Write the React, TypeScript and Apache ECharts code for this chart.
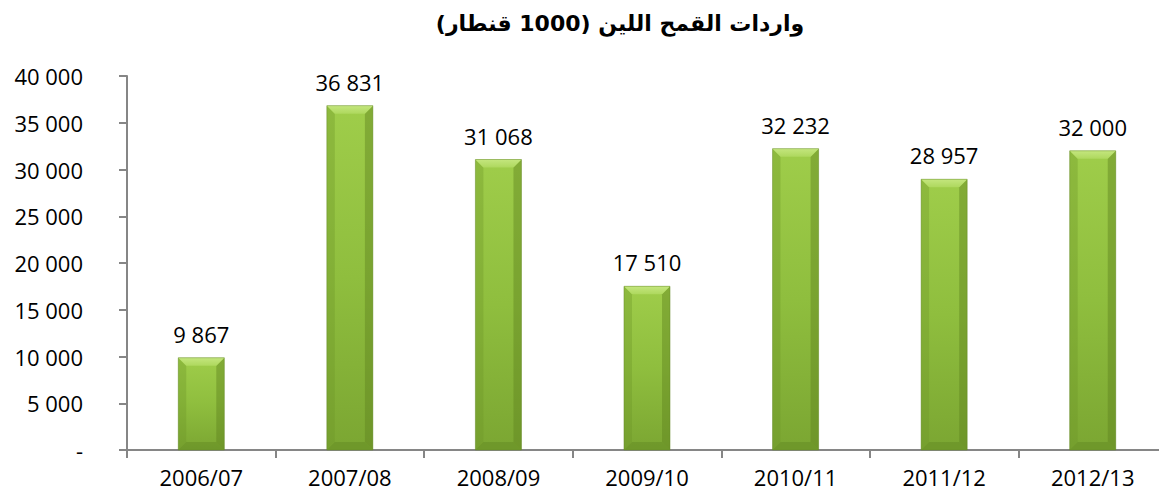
import React, { useEffect, useRef } from "react";
import * as echarts from "echarts";

const titleText = "واردات القمح اللين (1000 قنطار)";
const categories = ["2006/07", "2007/08", "2008/09", "2009/10", "2010/11", "2011/12", "2012/13"];
const imports = [9867, 36831, 31068, 17510, 32232, 28957, 32000];
const yMin = 0;
const yMax = 40000;
const yInterval = 5000;

const fmt = (v: number) => {
  if (v === 0) return "-";
  const s = String(Math.round(v));
  return s.replace(/\B(?=(\d{3})+(?!\d))/g, " ");
};

export default function App() {
  const ref = useRef<HTMLDivElement>(null);
  useEffect(() => {
    if (!ref.current) return;
    const chart = echarts.init(ref.current, null, { renderer: "svg" });
    const font = "'Open Sans', 'Noto Sans', sans-serif";
    const barRatio = 0.31;
    chart.setOption({
      animation: false,
      backgroundColor: "#ffffff",
      title: {
        text: titleText,
        left: 615,
        top: 7,
        textAlign: "center",
        textStyle: {
          fontFamily: "'DejaVu Sans', 'Liberation Sans', sans-serif",
          fontWeight: "bold",
          fontSize: 22,
          color: "#000000",
        },
      },
      grid: { left: 127, right: 0, top: 76, bottom: 50, containLabel: false },
      xAxis: {
        type: "category",
        data: categories,
        axisLine: { lineStyle: { color: "#868686", width: 2 } },
        axisTick: { show: true, length: 8, alignWithLabel: false, lineStyle: { color: "#868686", width: 2 } },
        axisLabel: { color: "#000", fontSize: 22, fontFamily: font, margin: 16 },
      },
      yAxis: {
        type: "value",
        min: yMin,
        max: yMax,
        interval: yInterval,
        splitLine: { show: false },
        axisLine: { show: true, lineStyle: { color: "#868686", width: 2 } },
        axisTick: { show: true, length: 8, lineStyle: { color: "#868686", width: 2 } },
        axisLabel: {
          color: "#000",
          fontSize: 22,
          fontFamily: font,
          margin: 44,
          formatter: (v: number) => fmt(v),
        },
      },
      series: [
        {
          type: "custom",
          data: imports.map((v, i) => [i, v]),
          z: 3,
          renderItem: (params: any, api: any) => {
            const idx = api.value(0);
            const val = api.value(1);
            const top = api.coord([idx, val]);
            const base = api.coord([idx, 0]);
            const bw = api.size([1, 0])[0] * barRatio;
            const l = top[0] - bw / 2;
            const r = top[0] + bw / 2;
            const t = top[1];
            const b = base[1];
            const bv = Math.min(8, (b - t) / 3);
            return {
              type: "group",
              children: [
                {
                  type: "rect",
                  shape: { x: l, y: t, width: bw, height: b - t },
                  style: {
                    fill: new echarts.graphic.LinearGradient(0, 0, 0, 1, [
                      { offset: 0, color: "#9fcd4a" },
                      { offset: 0.5, color: "#8fbe3e" },
                      { offset: 1, color: "#7ba632" },
                    ]),
                  },
                },
                {
                  type: "polygon",
                  shape: { points: [[l, t], [l + bv, t + bv], [l + bv, b - bv], [l, b]] },
                  style: { fill: "rgba(110,150,40,0.35)" },
                },
                {
                  type: "polygon",
                  shape: { points: [[r, t], [r - bv, t + bv], [r - bv, b - bv], [r, b]] },
                  style: { fill: "rgba(95,130,30,0.45)" },
                },
                {
                  type: "polygon",
                  shape: { points: [[l, b], [l + bv, b - bv], [r - bv, b - bv], [r, b]] },
                  style: { fill: "rgba(90,125,30,0.35)" },
                },
                {
                  type: "polygon",
                  shape: { points: [[l, t], [r, t], [r - bv, t + bv], [l + bv, t + bv]] },
                  style: {
                    fill: new echarts.graphic.LinearGradient(0, 0, 0, 1, [
                      { offset: 0, color: "#c4e67e" },
                      { offset: 1, color: "#aed85e" },
                    ]),
                  },
                },
                {
                  type: "rect",
                  shape: { x: l, y: t, width: bw, height: b - t },
                  style: { fill: "none", stroke: "rgba(100,135,40,0.45)", lineWidth: 1 },
                },
              ],
            };
          },
        },
        {
          type: "bar",
          data: imports,
          barWidth: `${barRatio * 100}%`,
          itemStyle: { color: "rgba(0,0,0,0)" },
          z: 4,
          label: {
            show: true,
            position: "top",
            distance: 13,
            color: "#000",
            fontSize: 22,
            fontFamily: font,
            formatter: (p: any) => fmt(p.value),
          },
        },
      ],
    });
    return () => chart.dispose();
  }, []);
  return <div ref={ref} style={{ width: 1167, height: 500, margin: -8 }} />;
}
